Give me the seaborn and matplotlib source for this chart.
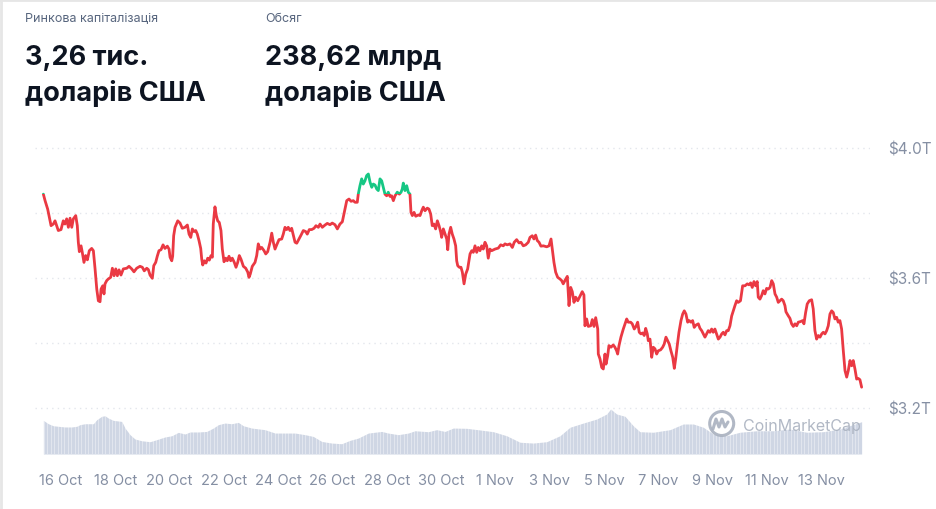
import pandas as pd
import matplotlib.pyplot as plt
import matplotlib.dates as mdates
from matplotlib.patches import Rectangle, Circle
from matplotlib.lines import Line2D
import seaborn as sns

# ---------------------------------------------------------
# Daten (Zeit in Stunden ab 15 Oct 00:00, Werte in Billionen USD)
# ---------------------------------------------------------
start = pd.Timestamp("2025-10-15")

mcap_hours = [
    8.4, 9.9, 12.2, 13.4, 15.2, 17.2, 18.7, 20.2, 21.6, 24.0, 26.0, 27.5, 29.0, 30.5, 32.0, 33.5,
    34.9, 37.0, 38.4, 39.3, 40.2, 41.7, 42.8, 44.3, 45.8, 47.3, 49.0, 51.1, 52.6, 54.1, 55.6, 57.0,
    58.5, 59.4, 60.9, 62.0, 62.9, 64.4, 65.8, 67.9, 69.4, 70.9, 72.4, 73.8, 75.3, 77.0, 79.1, 82.1,
    84.1, 86.5, 88.5, 90.9, 93.8, 95.9, 97.6, 99.8, 101.2, 102.7, 104.7, 106.0, 107.7, 109.1, 110.6,
    112.4, 114.2, 115.9, 118.0, 119.5, 120.4, 121.9, 122.7, 123.6, 124.8, 127.2, 129.2,
    131.2, 133.6, 135.7, 137.2, 138.7, 140.1, 141.6, 143.1, 144.5, 146.0, 147.5, 148.4, 149.3, 150.7,
    152.2, 153.7, 155.1, 156.6, 157.8, 158.6, 160.1, 161.3, 162.5, 163.9, 165.4, 166.6, 168.1, 169.6,
    171.0, 172.5, 174.0, 175.4, 177.2, 178.7, 180.2, 181.6, 183.1, 185.2, 187.3, 189.1, 190.2, 191.3,
    193.1, 195.5, 197.0, 198.4, 199.9, 201.4, 203.5, 205.0, 206.7, 208.8, 210.3, 211.7, 213.2, 214.7,
    216.7, 219.1, 220.5, 222.0, 223.5, 224.9, 226.4, 227.9, 229.4, 230.9, 232.4, 234.4, 236.2, 238.2,
    240.3, 241.7, 243.5, 245.6, 247.7, 249.4, 251.5, 253.0,
    255.0, 257.4, 259.4, 261.8, 263.8, 266.2, 268.3, 270.6, 272.7, 274.4, 276.6, 278.6, 280.4, 282.4,
    283.9, 285.9, 286.8, 288.3, 289.8, 291.2, 292.7, 294.2, 295.7, 297.2, 298.7, 300.1, 301.6, 303.1,
    304.5, 306.0, 307.5, 308.9, 310.4, 311.9, 313.3, 314.8, 316.3, 317.8, 319.3, 321.3, 323.1, 324.6,
    325.7, 326.6, 328.1, 329.6, 331.0, 332.5, 333.4, 334.6, 336.1, 337.6, 339.9, 341.4, 342.9, 344.3,
    345.8, 347.8, 349.3, 350.8, 352.2, 353.7, 355.2, 356.7, 358.2, 359.7, 360.5, 362.0, 363.5, 365.0,
    365.9, 367.0, 368.5, 369.9, 371.4, 372.9, 373.8, 374.7, 376.1,
    377.6, 378.8, 380.3, 381.8, 383.5, 385.6, 387.1, 388.5, 390.0, 391.5, 392.9, 394.4, 395.9, 397.3,
    398.8, 400.3, 401.7, 403.2, 404.7, 407.7, 410.6, 412.7, 415.0, 416.5, 418.5, 420.9, 423.0, 424.7,
    426.8, 428.9, 430.6, 432.7, 434.8, 437.1, 438.6, 440.6, 442.1, 443.6, 445.1, 446.6, 448.3, 450.4,
    453.4, 455.4, 457.2, 458.3, 459.8, 461.3, 463.1, 465.1, 466.6, 468.0, 469.5, 471.6, 473.1, 474.6,
    476.0, 477.5, 479.0, 480.8, 482.8, 484.8, 486.3, 487.2, 488.7, 490.1, 492.3, 493.7, 495.2, 496.7,
    498.5, 499.0,
    500.5, 502.0, 503.4, 504.9, 505.8, 507.3, 508.4, 510.2, 512.2, 513.7, 515.2, 516.1, 517.3, 519.0,
    521.1, 522.6, 524.1, 525.5, 527.6, 529.0, 530.8, 532.3, 533.8, 535.2, 536.7, 538.2, 539.6, 540.9,
    542.3, 543.2, 544.7, 546.2, 547.6, 549.1, 550.6, 552.0, 554.1, 555.9, 557.3, 558.8, 560.3, 561.7,
    563.2, 564.8, 566.2, 567.4, 568.8, 570.3, 572.1, 573.6, 575.0, 576.5, 578.0, 579.4, 580.9, 582.4,
    583.8, 585.3, 587.4, 588.9, 590.4, 591.8, 593.3, 594.8, 596.2, 597.7, 599.2, 600.6, 602.1, 603.6,
    605.1, 606.6, 608.1, 609.5, 611.0, 612.5, 613.9, 615.4, 616.9, 618.3, 619.8, 621.3, 622.7, 624.7,
    626.6, 628.7, 630.7, 632.2, 633.7, 635.1, 636.6, 638.1, 639.5, 640.4, 641.9, 643.4, 644.8, 646.3,
    647.8, 649.3, 650.8, 652.3, 653.7, 655.2, 656.7, 658.1, 659.6, 661.1, 662.5, 664.0, 664.9, 666.9,
    668.4, 669.9, 671.4, 672.9, 674.4, 675.8, 677.9, 679.7, 680.8, 682.3, 683.7, 685.5, 687.6, 689.0,
    690.5, 692.0, 693.5, 695.0, 696.5, 697.9, 699.4, 700.9, 702.3, 703.8, 705.3, 706.7, 708.2, 709.7,
    711.1, 712.6, 714.1, 715.6, 717.1, 718.6, 720.0, 721.5, 723.0, 724.4, 725.9, 727.4, 728.8, 730.3,
    731.8,
]

mcap_values = [
    3.858, 3.838, 3.812, 3.792, 3.761, 3.766, 3.776, 3.761, 3.746, 3.749, 3.776, 3.766, 3.782, 3.756, 3.784, 3.756,
    3.782, 3.792, 3.761, 3.710, 3.681, 3.699, 3.679, 3.648, 3.669, 3.656, 3.684, 3.691, 3.684, 3.628, 3.566, 3.530,
    3.527, 3.566, 3.576, 3.551, 3.582, 3.592, 3.597, 3.602, 3.630, 3.607, 3.628, 3.607, 3.625, 3.609, 3.628, 3.630,
    3.636, 3.628, 3.619, 3.630, 3.636, 3.633, 3.622, 3.630, 3.626, 3.609, 3.599, 3.638, 3.648, 3.667, 3.684,
    3.687, 3.702, 3.691, 3.698, 3.689, 3.664, 3.653, 3.667, 3.730, 3.756, 3.776, 3.769,
    3.753, 3.756, 3.763, 3.735, 3.725, 3.751, 3.743, 3.746, 3.735, 3.715, 3.691, 3.658, 3.640, 3.653,
    3.646, 3.661, 3.655, 3.669, 3.664, 3.766, 3.819, 3.792, 3.776, 3.771, 3.746, 3.689, 3.650, 3.661,
    3.653, 3.667, 3.653, 3.661, 3.648, 3.633, 3.648, 3.669, 3.658, 3.636, 3.630, 3.618, 3.602, 3.612,
    3.636, 3.648, 3.669, 3.705, 3.689, 3.694, 3.684, 3.674, 3.681, 3.710, 3.738, 3.710, 3.689, 3.702,
    3.718, 3.720, 3.735, 3.756, 3.749, 3.756, 3.746, 3.753, 3.732, 3.710, 3.707, 3.720, 3.732, 3.746,
    3.743, 3.735, 3.749, 3.749, 3.753, 3.761, 3.756, 3.766,
    3.756, 3.763, 3.768, 3.764, 3.769, 3.764, 3.751, 3.766, 3.773, 3.802, 3.838, 3.843, 3.836, 3.838,
    3.833, 3.833, 3.858, 3.884, 3.905, 3.889, 3.899, 3.915, 3.920, 3.895, 3.879, 3.889, 3.886, 3.874,
    3.869, 3.905, 3.899, 3.879, 3.858, 3.853, 3.864, 3.851, 3.853, 3.838, 3.853, 3.864, 3.858, 3.864,
    3.874, 3.892, 3.869, 3.884, 3.864, 3.858, 3.802, 3.792, 3.802, 3.790, 3.794, 3.792, 3.807, 3.818,
    3.807, 3.815, 3.812, 3.797, 3.761, 3.766, 3.751, 3.776, 3.761, 3.741, 3.725, 3.751, 3.735, 3.720,
    3.687, 3.735, 3.756, 3.735, 3.720, 3.699, 3.653, 3.638, 3.633,
    3.633, 3.618, 3.582, 3.612, 3.628, 3.674, 3.684, 3.679, 3.699, 3.679, 3.694, 3.684, 3.699, 3.689,
    3.710, 3.699, 3.661, 3.689, 3.684, 3.689, 3.692, 3.702, 3.699, 3.705, 3.702, 3.705, 3.694, 3.710,
    3.718, 3.708, 3.710, 3.699, 3.702, 3.710, 3.725, 3.730, 3.720, 3.732, 3.715, 3.710, 3.698, 3.699,
    3.696, 3.699, 3.720, 3.689, 3.648, 3.618, 3.602, 3.597, 3.592, 3.582, 3.592, 3.605, 3.515, 3.571,
    3.558, 3.525, 3.541, 3.530, 3.544, 3.558, 3.548, 3.453, 3.474, 3.451, 3.453, 3.472, 3.451, 3.478,
    3.443, 3.366,
    3.351, 3.325, 3.320, 3.366, 3.335, 3.361, 3.392, 3.387, 3.394, 3.387, 3.376, 3.366, 3.392, 3.418,
    3.443, 3.459, 3.474, 3.464, 3.464, 3.459, 3.443, 3.451, 3.464, 3.433, 3.428, 3.431, 3.423, 3.445,
    3.428, 3.407, 3.412, 3.356, 3.387, 3.382, 3.366, 3.376, 3.379, 3.387, 3.397, 3.418, 3.407, 3.397,
    3.376, 3.356, 3.322, 3.351, 3.392, 3.433, 3.469, 3.489, 3.499, 3.489, 3.464, 3.469, 3.464, 3.469,
    3.448, 3.455, 3.459, 3.445, 3.438, 3.428, 3.418, 3.428, 3.438, 3.433, 3.443, 3.433, 3.443, 3.428,
    3.412, 3.418, 3.428, 3.433, 3.425, 3.438, 3.438, 3.453, 3.483, 3.499, 3.515, 3.530, 3.525, 3.530,
    3.576, 3.576, 3.582, 3.579, 3.585, 3.571, 3.589, 3.576, 3.589, 3.541, 3.535, 3.546, 3.561, 3.551,
    3.568, 3.566, 3.571, 3.592, 3.582, 3.551, 3.541, 3.525, 3.530, 3.535, 3.530, 3.515, 3.496, 3.484,
    3.476, 3.459, 3.451, 3.459, 3.453, 3.464, 3.466, 3.469, 3.459, 3.494, 3.520, 3.530, 3.533, 3.505,
    3.438, 3.412, 3.423, 3.418, 3.428, 3.433, 3.428, 3.438, 3.453, 3.489, 3.499, 3.494, 3.474, 3.479,
    3.464, 3.469, 3.443, 3.376, 3.315, 3.295, 3.315, 3.346, 3.330, 3.346, 3.320, 3.289, 3.291, 3.287,
    3.264,
]

# Handelsvolumen (Mrd USD)
vol_hours = [
    8.4, 12.8, 17.2, 21.6, 27.5, 33.5, 37.9, 40.8, 45.2, 52.6, 55.6, 60.0, 62.9, 65.8, 70.2, 77.7,
    80.6, 85.0, 89.4, 95.3, 102.7, 108.6, 115.9, 121.9, 127.7, 133.6, 138.0, 145.4, 152.8, 158.6,
    163.1, 169.0, 174.9, 180.7, 185.2, 192.6, 204.3, 213.2, 222.0, 230.9, 239.7, 247.0, 254.5, 263.3,
    272.1, 279.5, 286.8, 295.7, 307.5, 313.3, 322.2, 331.0, 336.9, 348.7, 356.1, 363.5, 370.8, 382.6,
    394.4, 406.2, 418.0, 429.8, 441.5, 453.4, 465.1, 474.0, 485.7, 497.6, 506.4, 509.9, 515.2, 522.6,
    529.9, 535.8, 547.6, 562.4, 574.1, 583.0, 591.8, 600.6, 612.5, 624.2, 639.0, 653.7, 668.4, 683.2,
    697.9, 712.6, 731.8,
]
vol_values = [
    249, 224, 209, 205, 200, 200, 205, 217, 224, 224, 254, 279, 283, 266, 249, 241,
    192, 143, 111, 98, 91, 106, 126, 135, 160, 148, 163, 163, 167, 192,
    217, 229, 224, 234, 209, 192, 180, 155, 155, 155, 143, 130, 93, 81,
    76, 101, 118, 155, 167, 155, 143, 155, 172, 165, 180, 167, 192, 190,
    178, 165, 135, 87, 81, 91, 135, 198, 229, 259, 296, 333, 296, 279,
    209, 165, 161, 180, 222, 222, 198, 148, 135, 161, 172, 172, 185, 161,
    165, 185, 239,
]

tick_dates = ["2025-10-16", "2025-10-18", "2025-10-20", "2025-10-22", "2025-10-24", "2025-10-26",
              "2025-10-28", "2025-10-30", "2025-11-01", "2025-11-03", "2025-11-05", "2025-11-07",
              "2025-11-09", "2025-11-11", "2025-11-13"]
price_ticks = [3.2, 3.6, 4.0]
price_grid = [3.4, 3.8]

header_titles = ["Ринкова капіталізація", "Обсяг"]
header_line1 = ["3,26 тис.", "238,62 млрд"]
header_line2 = ["доларів США", "доларів США"]


def main():
    RED = "#EA3943"
    GREEN = "#16C784"
    GREY = "#858FA3"
    VOL = "#CFD6E4"

    sns.set_theme(style="white")
    plt.rcParams["font.family"] = ["Inter", "DejaVu Sans"]

    df = pd.DataFrame({"time": start + pd.to_timedelta(mcap_hours, unit="h"), "mcap": mcap_values})
    vol = pd.DataFrame({"time": start + pd.to_timedelta(vol_hours, unit="h"), "vol": vol_values})

    fig = plt.figure(figsize=(9.36, 5.10), dpi=100)
    W, H = 936, 510
    ax_vol = fig.add_axes([35 / W, 55 / H, 835 / W, 50 / H])
    ax = fig.add_axes([35 / W, 97.75 / H, 835 / W, 266.5 / H])
    for a in (ax, ax_vol):
        a.set_facecolor("none")
        for s in a.spines.values():
            s.set_visible(False)

    x0 = start + pd.Timedelta(hours=1.0)
    x1 = start + pd.Timedelta(hours=739.2)

    # Volumen als Fläche, feine weiße Trennlinien für die Balkenoptik
    ax_vol.fill_between(vol["time"], 0, vol["vol"], color=VOL, lw=0)
    stripes = pd.date_range(start + pd.Timedelta(hours=9), start + pd.Timedelta(hours=731), freq="3h")
    ax_vol.vlines(stripes, 0, 370, color="white", lw=0.5, alpha=0.55)
    ax_vol.set_xlim(x0, x1)
    ax_vol.set_ylim(0, 370)
    ax_vol.set_yticks([])
    ax_vol.set_xticks(pd.to_datetime(tick_dates))
    ax_vol.xaxis.set_major_formatter(mdates.DateFormatter("%-d %b"))
    ax_vol.tick_params(axis="x", length=0, pad=14, labelsize=10.5, labelcolor=GREY)
    ax_vol.set_xlabel("")
    ax_vol.set_ylabel("")

    # Marktkapitalisierung: rot unter, grün über dem Startwert
    base = mcap_values[0]
    sns.lineplot(data=df, x="time", y="mcap", ax=ax, color=RED, lw=2.0,
                 estimator=None, sort=False)
    sns.lineplot(data=df, x="time", y="mcap", ax=ax, color=GREEN, lw=2.0,
                 estimator=None, sort=False)
    ax.set_xlim(x0, x1)
    ax.set_ylim(3.19, 4.01)
    xa, xb = mdates.date2num(x0), mdates.date2num(x1)
    red_line, green_line = ax.lines[-2], ax.lines[-1]
    red_line.set_clip_path(Rectangle((xa, 0), xb - xa, base, transform=ax.transData))
    green_line.set_clip_path(Rectangle((xa, base), xb - xa, 5, transform=ax.transData))

    ax.yaxis.tick_right()
    ax.set_yticks(price_ticks)
    ax.set_yticks(price_grid, minor=True)
    ax.set_yticklabels([f"${v:.1f}T" for v in price_ticks])
    ax.tick_params(axis="y", which="both", length=0, pad=13, labelsize=11, labelcolor=GREY)
    ax.tick_params(axis="x", length=0, labelbottom=False)
    ax.grid(axis="y", which="both", color="#E3E6EC", lw=1, linestyle=(0, (1, 3)))
    ax.grid(axis="x", visible=False)
    ax.set_xlabel("")
    ax.set_ylabel("")

    # Kopfzeile
    for i, xpx in enumerate([25, 265]):
        fig.text(xpx / W, 1 - 21.5 / H, header_titles[i], fontsize=9, color="#58667E", va="baseline")
        fig.text(xpx / W, 1 - 65 / H, header_line1[i], fontsize=19.5, fontweight="bold",
                 color="#0D1421", va="baseline")
        fig.text(xpx / W, 1 - 101.5 / H, header_line2[i], fontsize=19.5, fontweight="bold",
                 color="#0D1421", va="baseline")

    # Wasserzeichen
    wm = "#A9B1BF"
    fig.add_artist(Circle((7.217, 0.855), 0.12, transform=fig.dpi_scale_trans,
                          fill=False, ec=wm, lw=2.2, alpha=0.9))
    fig.add_artist(Line2D([7.13, 7.16, 7.19, 7.22, 7.25, 7.28], [0.80, 0.90, 0.82, 0.90, 0.82, 0.87],
                          transform=fig.dpi_scale_trans, color=wm, lw=2.2, alpha=0.9))
    fig.text(743 / W, 1 - 426 / H, "CoinMarketCap", fontsize=11.5, color=wm,
             va="center", ha="left", alpha=0.9)

    # Rahmen links/oben
    fig.add_artist(Line2D([0.001, 0.001], [0, 1], transform=fig.transFigure, color="#E6E6E6", lw=2))
    fig.add_artist(Line2D([0, 1], [0.999, 0.999], transform=fig.transFigure, color="#E6E6E6", lw=2))

    fig.savefig("out.png", dpi=100)
    plt.close(fig)


if __name__ == "__main__":
    main()
